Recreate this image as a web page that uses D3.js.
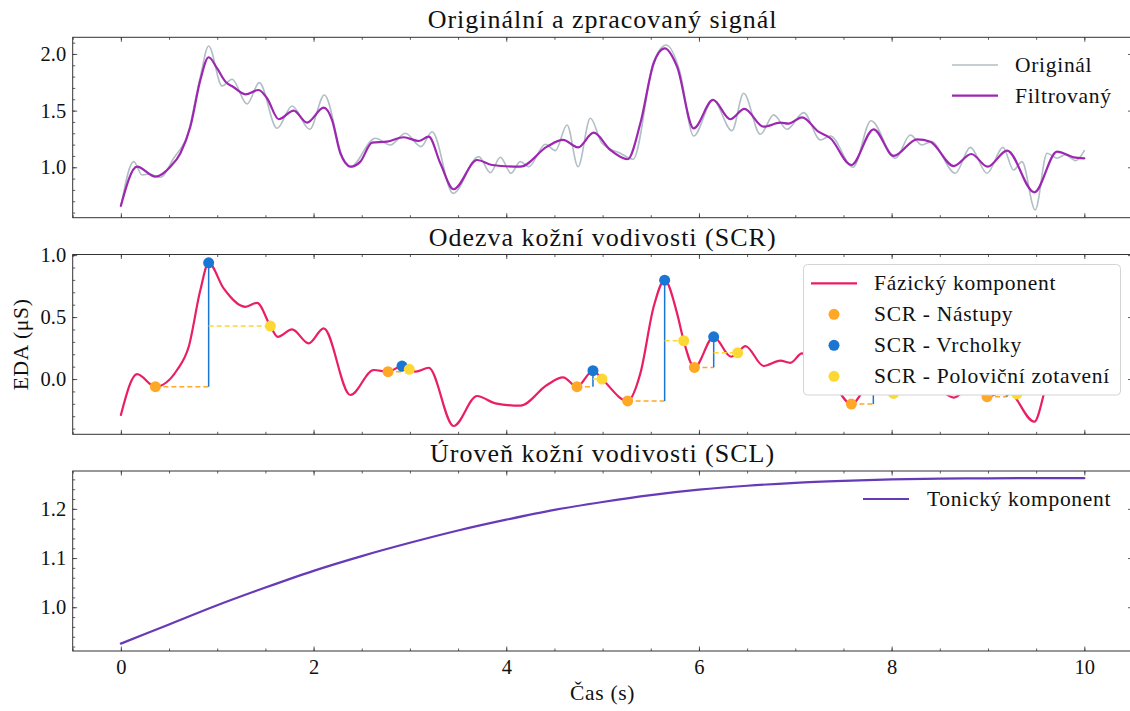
<!DOCTYPE html>
<html><head><meta charset="utf-8">
<script src="https://cdn.jsdelivr.net/npm/d3@7"></script>
<style>
body{margin:0;background:#fff}
svg{display:block}
text{font-family:"Liberation Serif","DejaVu Serif",serif;fill:#111}
.lbl{font-size:21.5px;letter-spacing:0.7px}
.ttl{font-size:26px;letter-spacing:1px}
</style>
</head><body>
<svg id="c" width="1130" height="711"></svg>
<script>
// ---------- DATA ----------
const origT = [0,0.133,0.22,0.30,0.41,0.548,0.70,0.825,0.911,1.05,1.154,1.31,1.437,1.621,1.777,1.96,2.112,2.30,2.38,2.641,2.797,2.953,3.116,3.23,3.448,3.714,3.835,3.939,4.05,4.146,4.233,4.406,4.51,4.631,4.745,4.873,4.994,5.184,5.316,5.53,5.662,5.80,5.945,6.146,6.343,6.464,6.637,6.776,6.914,7.087,7.26,7.364,7.6,7.786,8.04,8.194,8.315,8.41,8.661,8.817,8.99,9.156,9.266,9.353,9.49,9.613,9.717,9.80,9.91,10];
const origV = [0.655,1.05,0.932,0.94,0.912,1.08,1.31,1.80,2.07,1.718,1.777,1.559,1.747,1.344,1.541,1.335,1.638,1.09,1.00,1.256,1.197,1.30,1.182,1.314,0.77,1.094,0.952,1.088,0.947,1.05,1.005,1.203,1.147,1.373,1.005,1.432,1.212,1.124,1.071,1.93,2.079,1.85,1.276,1.594,1.323,1.653,1.291,1.462,1.335,1.482,1.241,1.276,1.0,1.411,1.079,1.285,1.197,1.226,0.947,1.176,0.947,1.176,0.976,1.05,0.623,1.124,1.08,1.11,1.058,1.147];

const filtT = [0,0.168,0.358,0.514,0.618,0.721,0.825,0.911,0.998,1.085,1.171,1.292,1.430,1.517,1.638,1.794,1.932,2.105,2.192,2.278,2.389,2.486,2.607,2.763,2.935,3.091,3.195,3.316,3.454,3.697,3.853,4.146,4.423,4.589,4.745,4.907,5.080,5.260,5.392,5.530,5.644,5.773,5.945,6.146,6.326,6.471,6.672,6.845,6.93,7.070,7.24,7.364,7.582,7.813,8.021,8.264,8.402,8.644,8.827,8.996,9.198,9.481,9.717,9.889,10];
const filtV = [0.66,1.005,0.917,1.005,1.124,1.358,1.771,1.971,1.874,1.756,1.706,1.644,1.682,1.609,1.424,1.500,1.394,1.526,1.417,1.124,1.005,1.05,1.217,1.226,1.265,1.232,1.270,1.035,0.806,1.064,1.020,1.005,1.182,1.241,1.176,1.305,1.153,1.071,1.388,1.918,2.050,1.888,1.344,1.594,1.424,1.515,1.358,1.394,1.385,1.441,1.314,1.256,1.020,1.335,1.10,1.247,1.226,1.011,1.117,1.005,1.147,0.779,1.138,1.088,1.079];

const phasT = [0,0.168,0.358,0.583,0.704,0.825,0.911,1.067,1.292,1.414,1.552,1.628,1.777,1.949,2.105,2.382,2.624,2.773,2.918,2.994,3.06,3.195,3.454,3.697,3.887,4.146,4.423,4.589,4.734,4.9,4.994,5.26,5.392,5.53,5.644,5.773,5.842,5.953,6.153,6.333,6.402,6.482,6.672,6.845,6.949,7.07,7.24,7.364,7.582,7.81,8.02,8.264,8.402,8.644,8.827,8.99,9.198,9.481,9.63,9.75,9.889,10];
const phasV = [-0.29,0.04,-0.062,0.073,0.26,0.718,0.938,0.731,0.583,0.615,0.427,0.341,0.40,0.288,0.409,-0.129,0.073,0.059,0.105,0.078,0.06,0.091,-0.379,-0.137,-0.196,-0.215,-0.048,0.013,-0.062,0.067,0.0,-0.177,0.046,0.583,0.798,0.530,0.309,0.094,0.341,0.18,0.212,0.266,0.105,0.148,0.131,0.207,0.08,0.0,-0.202,0.0,-0.116,0.0,-0.02,-0.15,-0.06,-0.142,-0.09,-0.344,-0.02,0.02,-0.05,-0.08];

const onsetT = [0.358,2.773,4.734,5.26,5.953,7.582,8.99];
const onsetV = [-0.062,0.059,-0.062,-0.177,0.094,-0.202,-0.142];
const peakT  = [0.911,2.918,4.9,5.644,6.153,7.81,9.198];
const peakV  = [0.938,0.105,0.067,0.798,0.341,0.0,-0.09];
const recT   = [1.552,2.994,4.994,5.842,6.402,8.02,9.30];
const recV   = [0.427,0.078,0.0,0.309,0.212,-0.116,-0.12];

const tonT = [0,0.5,1,1.5,2,2.5,3,3.5,4,4.5,5,5.5,6,6.5,7,7.5,8,8.5,9,9.5,10];
const tonV = [0.926,0.965,1.004,1.040,1.074,1.104,1.131,1.156,1.178,1.198,1.214,1.228,1.239,1.247,1.253,1.257,1.260,1.2615,1.262,1.2625,1.2625];

const xMajor = [0,2,4,6,8,10];
const titles = ["Originální a zpracovaný signál","Odezva kožní vodivosti (SCR)","Úroveň kožní vodivosti (SCL)"];
const xLabel = "Čas (s)";
const yLabel = "EDA (μS)";
const legend1 = ["Originál","Filtrovaný"];
const legend2 = ["Fázický komponent","SCR - Nástupy","SCR - Vrcholky","SCR - Poloviční zotavení"];
const legend3 = ["Tonický komponent"];

// ---------- STYLE ----------
const C = {orig:"#b0bec5", filt:"#9c27b0", phas:"#e91e63", onset:"#ffa726", peak:"#1976d2", rec:"#fdd835", ton:"#673ab7", axis:"#333"};
const FS = 20.5;
const L = 72.7, R = 1132.5;

const svg = d3.select("#c");
const x = d3.scaleLinear().domain([-0.5,10.5]).range([L,R]);

const panels = [
  {top:37.3, bot:217.7, dom:[0.555,2.147], major:[1.0,1.5,2.0], minor:d3.range(6,22).map(d=>d/10), fmt:d3.format(".1f"), xl:false},
  {top:254.5, bot:434.3, dom:[-0.446,1.005], major:[0,0.5,1.0], minor:d3.range(-4,11).map(d=>d/10), fmt:d3.format(".1f"), xl:false},
  {top:471, bot:651, dom:[0.911,1.277], major:[1.0,1.1,1.2], minor:d3.range(46,64).map(d=>d/50), fmt:d3.format(".1f"), xl:true}
];
panels.forEach(p=>{ p.y = d3.scaleLinear().domain(p.dom).range([p.bot,p.top]); });

function frame(p, i){
  const g = svg.append("g");
  const xMinor = d3.range(-1,22).map(d=>d/2);
  const style = a => { a.select(".domain").remove(); a.selectAll("line").attr("stroke",C.axis).attr("stroke-width",0.8); a.selectAll("text").style("font-size",FS+"px").attr("fill","#111"); };
  g.append("g").attr("transform",`translate(0,${p.bot})`).call(d3.axisBottom(x).tickValues(xMinor).tickSize(-2.5).tickFormat("")).call(style);
  g.append("g").attr("transform",`translate(0,${p.bot})`).call(d3.axisBottom(x).tickValues(xMajor).tickSize(-4.5).tickPadding(8).tickFormat(p.xl?d3.format("d"):"")).call(style);
  g.append("g").attr("transform",`translate(0,${p.top})`).call(d3.axisTop(x).tickValues(xMinor).tickSize(-2.5).tickFormat("")).call(style);
  g.append("g").attr("transform",`translate(0,${p.top})`).call(d3.axisTop(x).tickValues(xMajor).tickSize(-4.5).tickFormat("")).call(style);
  g.append("g").attr("transform",`translate(${L},0)`).call(d3.axisLeft(p.y).tickValues(p.minor).tickSize(-2.5).tickFormat("")).call(style);
  g.append("g").attr("transform",`translate(${L},0)`).call(d3.axisLeft(p.y).tickValues(p.major).tickSize(-4.5).tickPadding(6.5).tickFormat(p.fmt)).call(style);
  g.append("g").attr("transform",`translate(${R},0)`).call(d3.axisRight(p.y).tickValues(p.minor).tickSize(-2.5).tickFormat("")).call(style);
  g.append("g").attr("transform",`translate(${R},0)`).call(d3.axisRight(p.y).tickValues(p.major).tickSize(-4.5).tickFormat("")).call(style);
  g.append("rect").attr("x",L).attr("y",p.top).attr("width",R-L).attr("height",p.bot-p.top)
    .attr("fill","none").attr("stroke",C.axis).attr("stroke-width",1);
  svg.append("text").attr("class","ttl").attr("x",(L+R)/2).attr("y",p.top-9).attr("text-anchor","middle").text(titles[i]);
}

function curve(p, T, V, color, w){
  const line = d3.line().x(d=>x(d[0])).y(d=>p.y(d[1])).curve(d3.curveMonotoneX);
  return svg.append("path").attr("d", line(T.map((t,k)=>[t,V[k]]))).attr("fill","none")
    .attr("stroke",color).attr("stroke-width",w).attr("stroke-linejoin","round").attr("stroke-linecap","round");
}

// Panel 1
const p1 = panels[0];
curve(p1, origT, origV, C.orig, 1.6);
curve(p1, filtT, filtV, C.filt, 2.2);
frame(p1,0);
[[C.orig,1.6],[C.filt,2.2]].forEach((s,k)=>{
  const yy = 65 + k*30.7;
  svg.append("line").attr("x1",952).attr("x2",998).attr("y1",yy).attr("y2",yy).attr("stroke",s[0]).attr("stroke-width",s[1]);
  svg.append("text").attr("class","lbl").attr("x",1015).attr("y",yy+7).text(legend1[k]);
});

// Panel 2
const p2 = panels[1];
curve(p2, phasT, phasV, C.phas, 2.2);
onsetT.forEach((t,k)=>{
  svg.append("line").attr("x1",x(t)).attr("x2",x(peakT[k])).attr("y1",p2.y(onsetV[k])).attr("y2",p2.y(onsetV[k]))
    .attr("stroke",C.onset).attr("stroke-width",1.5).attr("stroke-dasharray","5,3");
  svg.append("line").attr("x1",x(peakT[k])).attr("x2",x(peakT[k])).attr("y1",p2.y(onsetV[k])).attr("y2",p2.y(peakV[k]))
    .attr("stroke",C.peak).attr("stroke-width",1.5);
  svg.append("line").attr("x1",x(peakT[k])).attr("x2",x(recT[k])).attr("y1",p2.y(recV[k])).attr("y2",p2.y(recV[k]))
    .attr("stroke",C.rec).attr("stroke-width",1.5).attr("stroke-dasharray","5,3");
});
const dots = (T,V,col)=> svg.append("g").selectAll("circle").data(T).join("circle")
  .attr("cx",d=>x(d)).attr("cy",(d,k)=>p2.y(V[k])).attr("r",5.5).attr("fill",col);
dots(onsetT,onsetV,C.onset); dots(peakT,peakV,C.peak); dots(recT,recV,C.rec);
frame(p2,1);
svg.append("rect").attr("x",803.5).attr("y",264.5).attr("width",317).attr("height",130.5).attr("rx",4)
  .attr("fill","#fff").attr("stroke","#d4d4d4").attr("stroke-width",1);
const leg2c = [C.phas,C.onset,C.peak,C.rec];
leg2c.forEach((c,k)=>{
  const yy = 283.3 + k*31;
  if(k===0) svg.append("line").attr("x1",811).attr("x2",857).attr("y1",yy).attr("y2",yy).attr("stroke",c).attr("stroke-width",2.2);
  else svg.append("circle").attr("cx",834).attr("cy",yy).attr("r",5.5).attr("fill",c);
  svg.append("text").attr("class","lbl").attr("x",874).attr("y",yy+7).text(legend2[k]);
});
svg.append("text").attr("class","lbl").attr("transform",`translate(28,${(p2.top+p2.bot)/2}) rotate(-90)`).attr("text-anchor","middle").text(yLabel);

// Panel 3
const p3 = panels[2];
curve(p3, tonT, tonV, C.ton, 2.2);
frame(p3,2);
svg.append("line").attr("x1",863).attr("x2",909).attr("y1",499).attr("y2",499).attr("stroke",C.ton).attr("stroke-width",2.2);
svg.append("text").attr("class","lbl").attr("x",927).attr("y",506).text(legend3[0]);
svg.append("text").attr("class","lbl").attr("x",(L+R)/2).attr("y",700).attr("text-anchor","middle").text(xLabel);
</script>
</body></html>
